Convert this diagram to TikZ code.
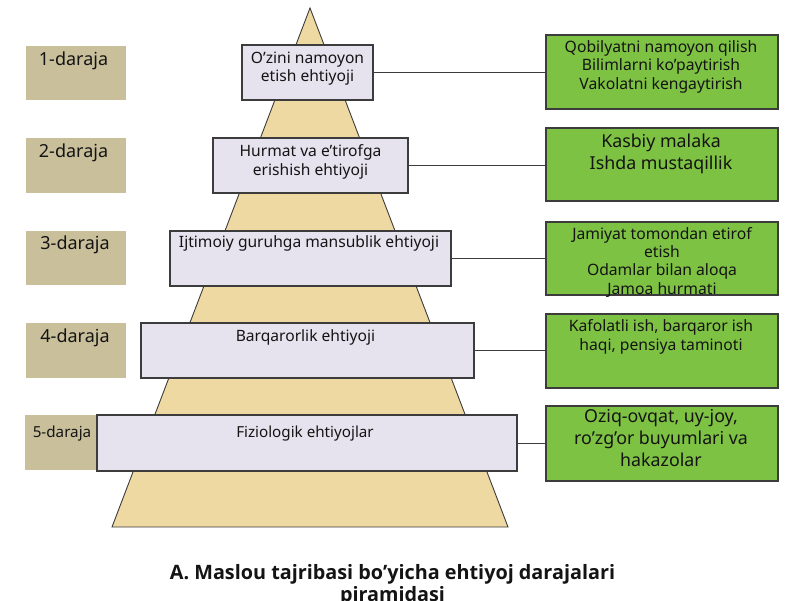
\documentclass[tikz,border=0pt]{standalone}
\usepackage{fontspec}
\setmainfont{Noto Sans}
\newfontfamily\titlefont{Open Sans}
\definecolor{tanbox}{HTML}{C9C09B}
\definecolor{lavbox}{HTML}{E7E3EE}
\definecolor{grnbox}{HTML}{7EC243}
\definecolor{pyrfill}{HTML}{EFD9A2}
\definecolor{edge}{HTML}{3C3C3C}
\definecolor{ink}{HTML}{141414}
\begin{document}
\begin{tikzpicture}[x=1pt,y=-1pt,
  levelbox/.style={fill=tanbox, draw=none, inner sep=0pt, outer sep=0pt, anchor=north west},
  needbox/.style={fill=lavbox, draw=edge, line width=1.1pt, inner sep=0pt, outer sep=0pt, anchor=north west},
  examplebox/.style={fill=grnbox, draw=edge, line width=1.1pt, inner sep=0pt, outer sep=0pt, anchor=north west},
  txt/.style={inner sep=0pt, anchor=north, align=center, text=ink},
  link/.style={draw=edge, line width=1pt}]
\useasboundingbox (0,0) rectangle (800,600);
\fill[white] (0,0) rectangle (800,600);
% pyramid
\coordinate (apex) at (310,8);
\coordinate (bl) at (112,527);
\coordinate (br) at (508,527);
\filldraw[fill=pyrfill, draw=edge, line width=0.9pt] (apex) -- (br) -- (bl) -- cycle;
% level boxes
\node[levelbox, minimum width=100pt, minimum height=54pt] (t1) at (26,46) {};
\node[levelbox, minimum width=100pt, minimum height=55pt] (t2) at (26,138) {};
\node[levelbox, minimum width=100pt, minimum height=54pt] (t3) at (26,231) {};
\node[levelbox, minimum width=100pt, minimum height=55pt] (t4) at (26,323) {};
\node[levelbox, minimum width=95pt, minimum height=55pt] (t5) at (25,415) {};
\node[txt, font=\fontsize{18}{21}\selectfont] (l1) at (73.5,52) {1-daraja};
\node[txt, font=\fontsize{18}{21}\selectfont] (l2) at (73.5,144) {2-daraja};
\node[txt, font=\fontsize{18}{21}\selectfont] (l3) at (75,236) {3-daraja};
\node[txt, font=\fontsize{18}{21}\selectfont] (l4) at (75,329) {4-daraja};
% need boxes
\node[needbox, minimum width=131pt, minimum height=55pt] (c1) at (242,45) {};
\node[needbox, minimum width=195pt, minimum height=55pt] (c2) at (213,138) {};
\node[needbox, minimum width=281pt, minimum height=55pt] (c3) at (170,231) {};
\node[needbox, minimum width=333pt, minimum height=55pt] (c4) at (141,323) {};
\node[needbox, minimum width=420pt, minimum height=56pt] (c5) at (97,415) {};
\node[txt, font=\fontsize{15.2}{18}\selectfont, anchor=base] (l5) at (62,437) {5-daraja};
\node[txt, font=\fontsize{15.6}{18}\selectfont] (n1) at (307.5,52) {O’zini namoyon\\etish ehtiyoji};
\node[txt, font=\fontsize{15.6}{19}\selectfont] (n2) at (310.5,144) {Hurmat va e’tirofga\\erishish ehtiyoji};
\node[txt, font=\fontsize{15.6}{18}\selectfont] (n3) at (309,235) {Ijtimoiy guruhga mansublik ehtiyoji};
\node[txt, font=\fontsize{15.6}{18}\selectfont] (n4) at (305.5,329) {Barqarorlik ehtiyoji};
\node[txt, font=\fontsize{15.2}{18}\selectfont, anchor=base] (n5) at (305,437) {Fiziologik ehtiyojlar};
% example boxes
\node[examplebox, minimum width=232pt, minimum height=74pt] (g1) at (546,35) {};
\node[examplebox, minimum width=232pt, minimum height=73pt] (g2) at (546,128) {};
\node[examplebox, minimum width=232pt, minimum height=73pt] (g3) at (546,222) {};
\node[examplebox, minimum width=232pt, minimum height=74pt] (g4) at (546,314) {};
\node[examplebox, minimum width=232pt, minimum height=75pt] (g5) at (546,406) {};
\node[txt, font=\fontsize{15.7}{18.5}\selectfont] (e1) at (661,40) {Qobilyatni namoyon qilish\\Bilimlarni ko’paytirish\\Vakolatni kengaytirish};
\node[txt, font=\fontsize{17.8}{22}\selectfont] (e2) at (661,134) {Kasbiy malaka\\Ishda mustaqillik};
\node[txt, font=\fontsize{15.7}{18.3}\selectfont] (e3) at (662,227) {Jamiyat tomondan etirof\\etish\\Odamlar bilan aloqa\\Jamoa hurmati};
\node[txt, font=\fontsize{15.7}{19}\selectfont] (e4) at (661,319) {Kafolatli ish, barqaror ish\\haqi, pensiya taminoti};
\node[txt, font=\fontsize{17.8}{22}\selectfont] (e5) at (661,409) {Oziq-ovqat, uy-joy,\\ro’zg’or buyumlari va\\hakazolar};
% connectors
\draw[link] (c1.east) -- (g1.west |- c1.east);
\draw[link] (c2.east) -- (g2.west |- c2.east);
\draw[link] (c3.east) -- (g3.west |- c3.east);
\draw[link] (c4.east) -- (g4.west |- c4.east);
\draw[link] (c5.east) -- (g5.west |- c5.east);
% title
\node[txt, font=\titlefont\bfseries\fontsize{19.8}{22}\selectfont] (title) at (392.5,564) {A. Maslou tajribasi bo’yicha ehtiyoj darajalari\\piramidasi};
\end{tikzpicture}
\end{document}
